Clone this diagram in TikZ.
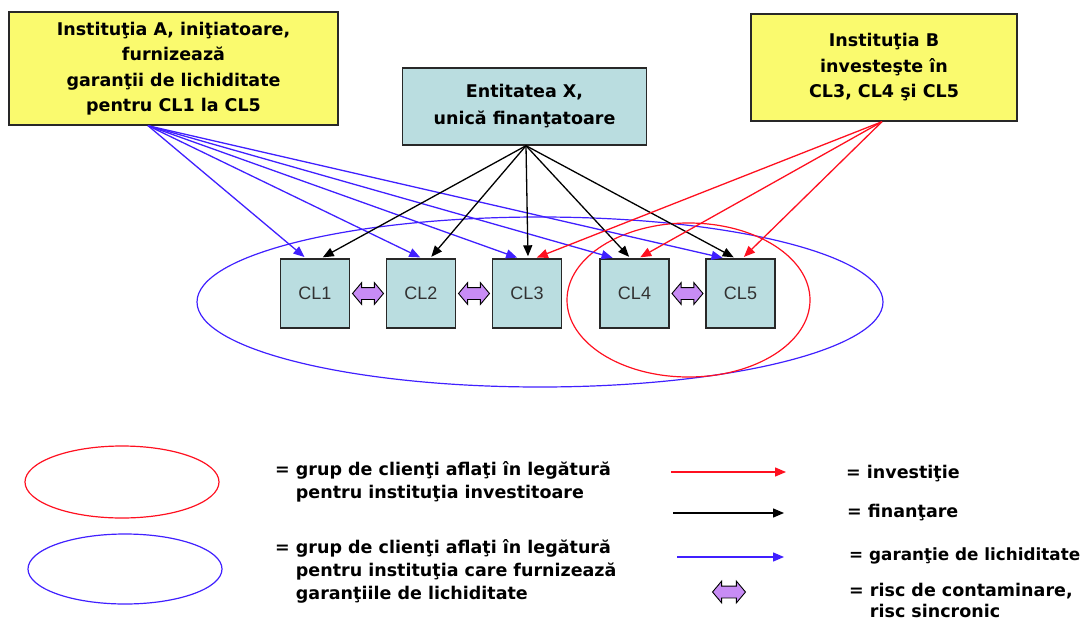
\documentclass[tikz,border=0pt]{standalone}
\usepackage{fontspec}
\setmainfont{DejaVu Sans}
\newfontfamily\clfont{Liberation Sans}
\usetikzlibrary{arrows.meta,shapes.arrows,calc}

\definecolor{boxyellow}{RGB}{250,250,110}
\definecolor{boxcyan}{RGB}{186,221,224}
\definecolor{guarblue}{RGB}{64,32,255}
\definecolor{invred}{RGB}{255,16,32}
\definecolor{riskviolet}{RGB}{200,140,245}
\definecolor{edgegray}{RGB}{40,40,40}
\definecolor{cltext}{RGB}{50,50,50}

\begin{document}
\begin{tikzpicture}[x=1pt,y=-1pt,
  inst/.style={draw=edgegray, line width=1.4pt, fill=boxyellow, align=center,
    inner sep=0pt, font=\bfseries\fontsize{17.5}{25.5}\selectfont},
  fund/.style={inst, fill=boxcyan, font=\bfseries\fontsize{17.5}{27}\selectfont},
  client/.style={draw=edgegray, line width=1.4pt, fill=boxcyan, inner sep=0pt,
    minimum width=69pt, minimum height=69pt, text=cltext,
    font=\clfont\fontsize{18}{20}\selectfont},
  risk/.style={shape=double arrow, draw=black, line width=0.9pt, fill=riskviolet,
    inner xsep=0pt, inner ysep=5.5pt, minimum height=31pt, minimum width=21pt,
    double arrow head extend=5pt, double arrow tip angle=100},
  link/.style={line width=1.3pt, -{Triangle[length=11pt,width=9pt]}, shorten >=2pt},
  guar/.style={link, guarblue},
  fin/.style={link, black},
  inv/.style={link, invred},
  legtext/.style={inner sep=0pt, align=left,
    font=\bfseries\fontsize{17.5}{23}\selectfont},
]
\useasboundingbox (0,0) rectangle (1084,621);

% client groups
\draw[guarblue, line width=1.2pt] (540,302) ellipse [x radius=343, y radius=85];
\draw[invred, line width=1.2pt] (688.5,300) ellipse [x radius=121.5, y radius=77];

% institutions
\node[inst, minimum width=329pt, minimum height=113pt] (A) at (173.5,68.5)
  {Instituţia A, iniţiatoare,\\ furnizează\\ garanţii de lichiditate\\ pentru CL1 la CL5};
\node[inst, minimum width=266pt, minimum height=107pt] (B) at (884,67.5)
  {Instituţia B\\ investeşte în\\ CL3, CL4 şi CL5};
\node[fund, minimum width=244pt, minimum height=77pt] (X) at (524.5,106.5)
  {Entitatea X,\\ unică finanţatoare};

% clients
\node[client] (cl1) at (315,293.5) {CL1};
\node[client] (cl2) at (421,293.5) {CL2};
\node[client] (cl3) at (527,293.5) {CL3};
\node[client] (cl4) at (634.5,293.5) {CL4};
\node[client] (cl5) at (740.5,293.5) {CL5};

% contamination risk between neighbours
\node[risk] (r12) at ($(cl1.east)!0.5!(cl2.west)$) {};
\node[risk] (r23) at ($(cl2.east)!0.5!(cl3.west)$) {};
\node[risk] (r45) at ($(cl4.east)!0.5!(cl5.west)$) {};

% liquidity guarantees
\coordinate (asrc) at ([xshift=-25.5pt]A.south);
\foreach \t/\d in {cl1/-9, cl2/1, cl3/-8, cl4/-20, cl5/-16}
  \draw[guar] (asrc) -- ([xshift=\d pt]\t.north);

% funding
\coordinate (xsrc) at ([xshift=1.5pt]X.south);
\foreach \t/\d in {cl1/6, cl2/9, cl3/1, cl4/-4, cl5/-5}
  \draw[fin] (xsrc) -- ([xshift=\d pt]\t.north);

% investments
\coordinate (bsrc) at ([xshift=-2pt]B.south);
\foreach \t/\d in {cl3/8, cl4/4, cl5/2}
  \draw[inv] (bsrc) -- ([xshift=\d pt]\t.north);

% legend: groups
\draw[invred, line width=1.2pt] (122,482) ellipse [x radius=97, y radius=36];
\draw[guarblue, line width=1.2pt] (125,569) ellipse [x radius=97, y radius=35];
\node[legtext, anchor=north west] (lg1) at (275,461)
  {= grup de clienţi aflaţi în legătură\\\hphantom{= }pentru instituţia investitoare};
\node[legtext, anchor=north west] (lg2) at (275,539)
  {= grup de clienţi aflaţi în legătură\\\hphantom{= }pentru instituţia care furnizează\\\hphantom{= }garanţiile de lichiditate};

% legend: connectors
\coordinate (li0) at (671,472);  \coordinate (li1) at (786,472);
\coordinate (lf0) at (673,513);  \coordinate (lf1) at (784,513);
\coordinate (lg0) at (677,557);  \coordinate (lgg) at (784,557);
\draw[inv, shorten >=0pt] (li0) -- (li1);
\draw[fin, shorten >=0pt] (lf0) -- (lf1);
\draw[guar, shorten >=0pt] (lg0) -- (lgg);
\node[risk, minimum height=33pt] (lr) at (729,592) {};

\node[legtext, anchor=base west] (ti) at (846,478) {= investiţie};
\node[legtext, anchor=base west] (tf) at (847,517) {= finanţare};
\node[legtext, anchor=base west, font=\bfseries\fontsize{16.8}{20}\selectfont]
  (tg) at (849,560) {= garanţie de lichiditate};
\node[legtext, anchor=north west, font=\bfseries\fontsize{17.5}{20.5}\selectfont]
  (tr) at (849,583) {= risc de contaminare,\\\hphantom{= }risc sincronic};
\end{tikzpicture}
\end{document}
